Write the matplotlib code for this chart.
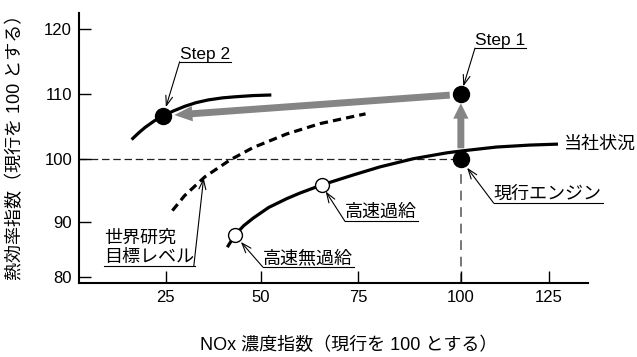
import numpy as np
import matplotlib
matplotlib.use('Agg')
import matplotlib.pyplot as plt
from matplotlib.lines import Line2D
from matplotlib.text import Text
from matplotlib.transforms import IdentityTransform

plt.rcParams['font.family'] = ['Liberation Sans', 'Noto Sans CJK JP']

# ticks
nox_ticks = [25, 50, 75, 100, 125]
eff_ticks = [80, 90, 100, 110, 120]

# 当社状況 curve
current_x = [41.2, 43.2, 45.5, 48.0, 52.0, 56.6, 60.0, 65.6, 73.7, 80.3, 88.4, 96.5, 100.2, 110.1, 119.5, 127.5]
current_y = [85.4, 87.6, 89.3, 90.6, 92.3, 93.7, 94.6, 95.9, 97.5, 98.8, 100.1, 101.0, 101.3, 101.9, 102.2, 102.35]

# Step 2 curve
step2_x = [16.1, 18.0, 19.6, 22.0, 24.4, 27.0, 30.1, 33.0, 36.2, 40.0, 43.2, 48.0, 52.7]
step2_y = [103.05, 104.1, 104.9, 105.9, 106.7, 107.43, 108.17, 108.72, 109.14, 109.46, 109.62, 109.81, 109.9]

# 世界研究目標レベル (dashed)
target_x = [26.8, 30.0, 35.3, 41.9, 47.9, 56.6, 65.2, 76.8]
target_y = [91.8, 94.2, 97.2, 99.9, 101.8, 103.9, 105.5, 107.0]

# key points
engine = (100, 100)      # 現行エンジン
step1 = (100, 110)
step2 = (24.4, 106.7)
na_point = (43.2, 87.6)     # 高速無過給
turbo_point = (65.6, 95.9)  # 高速過給

# the source axes are not evenly spaced -> piecewise linear scale
x_ref = [0, 25, 50, 75, 100, 125, 150]
x_pos = [70.4, 165.7, 261.0, 358.3, 461.0, 549.3, 637.6]
y_ref = [70, 80, 90, 100, 110, 120, 130]
y_pos = [-331.9, -276.7, -221.7, -159.3, -94.3, -29.3, 35.7]


def piecewise(a, b):
    a = np.asarray(a, float)
    b = np.asarray(b, float)

    def f(v):
        v = np.asarray(v, float)
        out = np.interp(v, a, b)
        out = np.where(v < a[0], b[0] + (v - a[0]) * (b[1] - b[0]) / (a[1] - a[0]), out)
        out = np.where(v > a[-1], b[-1] + (v - a[-1]) * (b[-1] - b[-2]) / (a[-1] - a[-2]), out)
        return out
    return f


fig = plt.figure(figsize=(6.37, 3.57), dpi=100)
ax = fig.add_axes([79 / 637, 1 - 283 / 357, 509 / 637, 270 / 357])
ax.set_xscale('function', functions=(piecewise(x_ref, x_pos), piecewise(x_pos, x_ref)))
ax.set_yscale('function', functions=(piecewise(y_ref, y_pos), piecewise(y_pos, y_ref)))
ax.set_xlim(2.3, 136)
ax.set_ylim(78.9, 122.5)

for s in ['top', 'right']:
    ax.spines[s].set_visible(False)
for s in ['left', 'bottom']:
    ax.spines[s].set_linewidth(1.5)
ax.set_xticks(nox_ticks)
ax.set_yticks(eff_ticks)
ax.tick_params(direction='in', length=8.5, width=1, pad=5, labelsize=12)

# reference lines through the current engine
ax.hlines(engine[1], 2.3, engine[0], colors='#222222', lw=0.9, linestyles=(0, (6, 3)), zorder=1)
ax.vlines(engine[0], 78.9, engine[1], colors='#777777', lw=1.4, linestyles=(0, (5, 3.5)), zorder=1)

# curves
ax.plot(current_x, current_y, color='black', lw=2.3, solid_capstyle='butt', zorder=3)
ax.plot(step2_x, step2_y, color='black', lw=2.3, solid_capstyle='butt', zorder=3)
ax.plot(target_x, target_y, color='black', lw=2.3, linestyle=(0, (2.6, 1.6)), zorder=3)

# gray improvement arrows
gray = '#858585'
ax.annotate('', xy=step1, xytext=engine,
            arrowprops=dict(arrowstyle='simple,head_length=11,head_width=11,tail_width=5',
                            mutation_scale=1, color=gray, lw=0, shrinkA=8, shrinkB=6.5), zorder=4)
ax.annotate('', xy=step2, xytext=step1,
            arrowprops=dict(arrowstyle='simple,head_length=13,head_width=11,tail_width=5',
                            mutation_scale=1, color=gray, lw=0, shrinkA=8, shrinkB=8), zorder=4)

# points
ax.plot([engine[0], step1[0], step2[0]], [engine[1], step1[1], step2[1]], 'o',
        ms=11.5, color='black', zorder=5)
ax.plot([na_point[0], turbo_point[0]], [na_point[1], turbo_point[1]], 'o',
        ms=10, mfc='white', mec='black', mew=1, zorder=5)

# callouts
callouts = []


def callout(label, xy, xytext, ha='left', shrink=6, size=13):
    t = ax.annotate(label, xy=xy, xytext=xytext, ha=ha, va='bottom', fontsize=size,
                    multialignment='left', zorder=6,
                    arrowprops=dict(arrowstyle='->,head_length=0.7,head_width=0.25',
                                    mutation_scale=10, lw=0.8, color='black',
                                    patchA=None, shrinkA=0, shrinkB=shrink,
                                    relpos=(0, 0) if ha == 'left' else (1, 0)))
    callouts.append(t)


callout('Step 2', step2, (28.7, 115.0), shrink=6.5, size=12.5)
callout('Step 1', step1, (104.0, 117.1), shrink=6, size=12.5)
callout('現行エンジン', engine, (109.3, 93.0), shrink=7.5)
callout('高速過給', turbo_point, (71.6, 90.1), shrink=5.5)
callout('高速無過給', na_point, (50.5, 81.8), shrink=6.5)
callout('世界研究\n目標レベル', (35.0, np.interp(35.0, target_x, target_y)), (32.4, 81.9),
        ha='right', shrink=0)

ax.annotate('当社状況', xy=(current_x[-1], current_y[-1]), xytext=(4.5, 0),
            textcoords='offset points', ha='left', va='center', fontsize=13)

ax.set_xlabel('NOx 濃度指数（現行を 100 とする）', fontsize=13, va='center')
ax.xaxis.set_label_coords(0.530, -0.230)
ax.set_ylabel('熱効率指数（現行を 100 とする）', fontsize=13, va='center')
ax.yaxis.set_label_coords(-0.124, 0.52)

# underline each callout text (text box only, not the leader)
fig.canvas.draw()
r = fig.canvas.get_renderer()
for t in callouts:
    bb = Text.get_window_extent(t, r)
    fig.add_artist(Line2D([bb.x0, bb.x1 + 1], [bb.y0, bb.y0], transform=IdentityTransform(),
                          color='black', lw=0.8))

fig.savefig('out.png', dpi=100)
